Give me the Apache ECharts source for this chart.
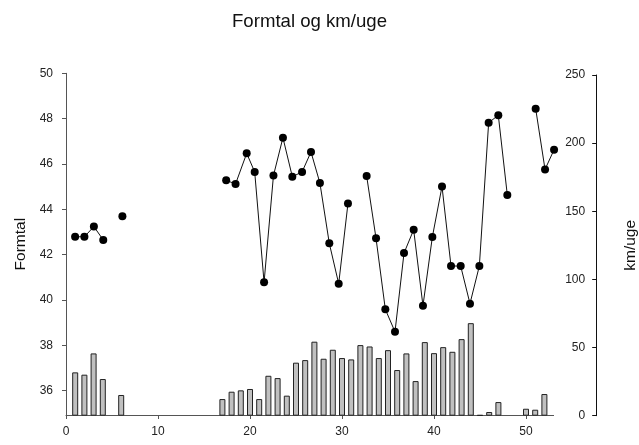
<!DOCTYPE html>
<html>
<head>
<meta charset="utf-8">
<script src="https://cdn.jsdelivr.net/npm/echarts@6/dist/echarts.min.js"></script>
<style>
html,body{margin:0;padding:0;background:#fff;}
#chart{width:639px;height:445px;}
</style>
</head>
<body>
<div id="chart"></div>
<script>
// Formtal (line, left axis) — x position, value; null breaks the line
var formtalX = [0.99, 2.0, 3.03, 4.05, 5, 6.13, 12, 17.41, 18.43, 19.64, 20.51, 21.53, 22.55, 23.58, 24.6, 25.66, 26.63, 27.6, 28.62, 29.64, 30.65, 31.6, 32.68, 33.7, 34.71, 35.76, 36.74, 37.79, 38.8, 39.82, 40.87, 41.85, 42.9, 43.91, 44.93, 45.94, 46.99, 47.97, 49.5, 51.05, 52.07, 53.05];
var formtal = [42.79, 42.79, 43.24, 42.65, null, 43.69, null, 45.28, 45.12, 46.47, 45.65, 40.78, 45.49, 47.16, 45.44, 45.65, 46.53, 45.16, 42.5, 40.72, 44.26, null, 45.47, 42.72, 39.59, 38.6, 42.07, 43.1, 39.75, 42.78, 45.01, 41.5, 41.5, 39.84, 41.5, 47.82, 48.15, 44.63, null, 48.44, 45.76, 46.63];

// km/uge (bars, right axis)
var weeks = [1, 2, 3, 4, 6, 17, 18, 19, 20, 21, 22, 23, 24, 25, 26, 27, 28, 29, 30, 31, 32, 33, 34, 35, 36, 37, 38, 39, 40, 41, 42, 43, 44, 45, 46, 47, 50, 51, 52];
var kmPerWeek = [31.8, 30.1, 45.7, 26.9, 15.2, 12.2, 17.6, 18.6, 19.6, 12.2, 29.3, 27.6, 14.7, 38.9, 40.8, 54.3, 41.8, 48.4, 42.3, 41.3, 51.8, 50.8, 42.3, 48.1, 33.5, 45.7, 25.4, 54.0, 45.9, 50.3, 46.9, 56.2, 67.9, 0.5, 2.7, 10.0, 5.1, 4.4, 15.9];

var formtalTicks = [36, 38, 40, 42, 44, 46, 48, 50];

var lineData = formtalX.map(function (x, i) {
  return formtal[i] === null ? [x, '-'] : [x, formtal[i]];
});
var barData = weeks.map(function (w, i) { return [w, kmPerWeek[i]]; });

var FONT = '"Liberation Sans", Arial, sans-serif';
var chart = echarts.init(document.getElementById('chart'));
chart.setOption({
  animation: false,
  backgroundColor: '#fff',
  textStyle: { fontFamily: FONT },
  title: {
    text: 'Formtal og km/uge',
    left: 227, top: 7,
    textStyle: { fontFamily: FONT, fontSize: 18.6, fontWeight: 'normal', color: '#111' }
  },
  grid: [
    { left: 66, right: 85.4, top: 73.3, bottom: 30, containLabel: false, outerBoundsMode: 'none' },
    { left: 66, right: 85.4, top: 75, bottom: 29.3, containLabel: false, outerBoundsMode: 'none' }
  ],
  xAxis: [
    {
      type: 'value', gridIndex: 0, min: 0, max: 53, interval: 10,
      axisLine: { show: true, onZero: false, lineStyle: { color: '#555', width: 1 } },
      axisTick: { show: true, length: 4, lineStyle: { color: '#555' } },
      axisLabel: { fontSize: 12, color: '#222', margin: 11, fontFamily: FONT,
        showMaxLabel: false },
      splitLine: { show: false }
    },
    {
      type: 'value', gridIndex: 1, min: 0, max: 53, show: false,
      axisLine: { onZero: false },
      splitLine: { show: false }
    }
  ],
  yAxis: [
    {
      type: 'value', gridIndex: 0, position: 'left', min: 34.93, max: 50,
      name: 'Formtal', nameLocation: 'middle', nameRotate: 90, nameGap: 37,
      nameTextStyle: { fontSize: 15.5, color: '#111', fontFamily: FONT },
      axisLine: { show: true, onZero: false, lineStyle: { color: '#555', width: 1 } },
      axisTick: { show: true, length: 4, customValues: formtalTicks, lineStyle: { color: '#555' } },
      axisLabel: { fontSize: 12, color: '#222', margin: 13, customValues: formtalTicks, fontFamily: FONT },
      splitLine: { show: false }
    },
    {
      type: 'value', gridIndex: 1, position: 'right', offset: 42.6,
      min: 0, max: 250, interval: 50,
      name: 'km/uge', nameLocation: 'middle', nameRotate: 90, nameGap: 27,
      nameTextStyle: { fontSize: 15.5, color: '#111', fontFamily: FONT },
      axisLine: { show: true, onZero: false, lineStyle: { color: '#111', width: 1 } },
      axisTick: { show: true, inside: true, length: 4, lineStyle: { color: '#111' } },
      axisLabel: { inside: true, fontSize: 12, color: '#222', margin: 11, fontFamily: FONT },
      splitLine: { show: false }
    }
  ],
  series: [
    {
      type: 'bar', xAxisIndex: 1, yAxisIndex: 1,
      data: barData, barWidth: 6,
      itemStyle: { color: '#c0c0c0', borderColor: '#222', borderWidth: 1 }
    },
    {
      type: 'line', xAxisIndex: 0, yAxisIndex: 0,
      data: lineData, connectNulls: false, clip: false,
      showSymbol: true, showAllSymbol: true,
      symbol: 'circle', symbolSize: 8,
      lineStyle: { color: '#111', width: 1 },
      itemStyle: { color: '#000', borderWidth: 0 }
    }
  ]
});
</script>
</body>
</html>
